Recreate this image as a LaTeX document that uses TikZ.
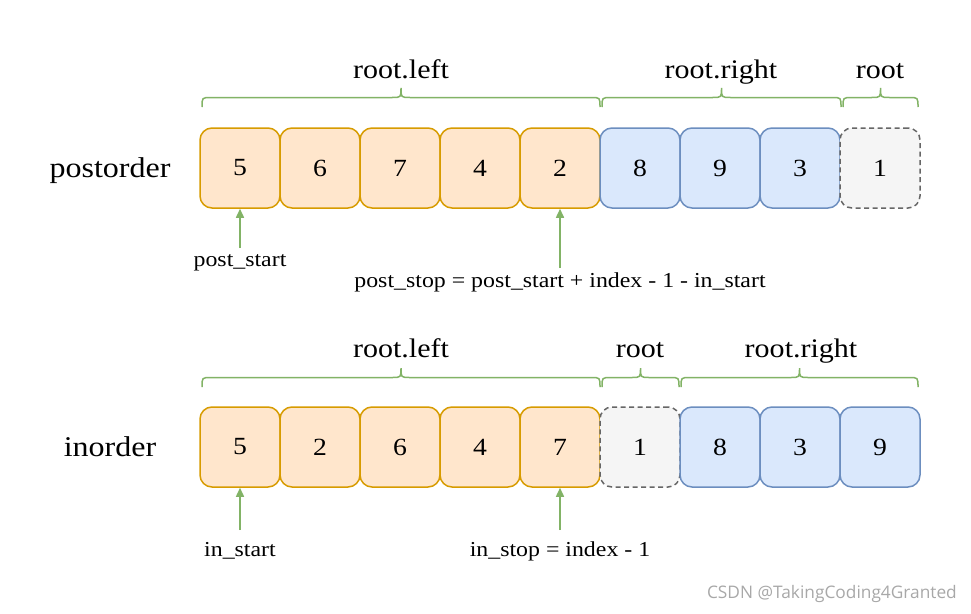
\documentclass[tikz,border=0pt]{standalone}
\usepackage{fontspec}
\setmainfont{Liberation Serif}[FakeStretch=1.12]
\newfontfamily\wmfont{Open Sans}
\usetikzlibrary{arrows.meta}
\definecolor{orfill}{HTML}{FFE6CC}
\definecolor{ordraw}{HTML}{D79B00}
\definecolor{blfill}{HTML}{DAE8FC}
\definecolor{bldraw}{HTML}{6C8EBF}
\definecolor{grfill}{HTML}{F5F5F5}
\definecolor{grdraw}{HTML}{666666}
\definecolor{grn}{HTML}{82B366}
\definecolor{wm}{HTML}{A8A8A8}
\tikzset{
  cell/.style={draw, rounded corners=12pt, minimum width=80pt, minimum height=80pt,
    line width=1.5pt, inner sep=0pt, font=\fontsize{24.7}{30}\selectfont},
  lcell/.style={cell, fill=orfill, draw=ordraw},
  rcell/.style={cell, fill=blfill, draw=bldraw},
  ccell/.style={cell, fill=grfill, draw=grdraw, dash pattern=on 5pt off 3.5pt},
  rowlab/.style={anchor=base, inner sep=0pt, font=\fontsize{28.6}{32}\selectfont},
  brlab/.style={anchor=base, inner sep=0pt, font=\fontsize{26.8}{30}\selectfont},
  arlab/.style={anchor=base, inner sep=0pt, font=\fontsize{21.3}{24}\selectfont},
  brc/.style={draw=grn, line width=1.5pt},
  arr/.style={draw=grn, line width=1.5pt, -{Triangle[length=9pt,width=8pt]}},
}
% \cbrace{x1}{x2}{y of ends}
\newcommand{\cbrace}[3]{%
  \pgfmathsetmacro{\xm}{(#1+#2)/2}%
  \pgfmathsetmacro{\yl}{#3-9.5}%
  \pgfmathsetmacro{\yt}{#3-19}%
  \path[brc] (#1,#3) .. controls (#1,\yl) and (#1,\yl) .. (#1+9,\yl)
    -- (\xm-9,\yl) .. controls (\xm,\yl) and (\xm,\yl) .. (\xm,\yt)
    .. controls (\xm,\yl) and (\xm,\yl) .. (\xm+9,\yl)
    -- (#2-9,\yl) .. controls (#2,\yl) and (#2,\yl) .. (#2,#3);}
\begin{document}
\begin{tikzpicture}[x=1pt,y=-1pt]
\useasboundingbox (0,0) rectangle (971,613);
% postorder row
\node[rowlab] (lpost) at (110,177.5) {postorder};
\node[lcell] (p1) at (240,168) {5};
\node[lcell] (p2) at (320,168) {6};
\node[lcell] (p3) at (400,168) {7};
\node[lcell] (p4) at (480,168) {4};
\node[lcell] (p5) at (560,168) {2};
\node[rcell] (p6) at (640,168) {8};
\node[rcell] (p7) at (720,168) {9};
\node[rcell] (p8) at (800,168) {3};
\node[ccell] (p9) at (880,168) {1};
\cbrace{202}{600}{107}
\cbrace{602}{841}{107}
\cbrace{843}{918}{107}
\node[brlab] (bl1) at (401,78.5) {root.left};
\node[brlab] (br1) at (721,78.5) {root.right};
\node[brlab] (bc1) at (880,78.5) {root};
\coordinate (t1) at (240,248);
\coordinate (t2) at (560,268);
\draw[arr] (t1) -- (p1.south);
\draw[arr] (t2) -- (p5.south);
\node[arlab] (ps) at (240,266.5) {post\_start};
\node[arlab] (pe) at (560,287) {post\_stop = post\_start + index - 1 - in\_start};
% inorder row
\node[rowlab] (lin) at (110,456) {inorder};
\node[lcell] (i1) at (240,447) {5};
\node[lcell] (i2) at (320,447) {2};
\node[lcell] (i3) at (400,447) {6};
\node[lcell] (i4) at (480,447) {4};
\node[lcell] (i5) at (560,447) {7};
\node[ccell] (i6) at (640,447) {1};
\node[rcell] (i7) at (720,447) {8};
\node[rcell] (i8) at (800,447) {3};
\node[rcell] (i9) at (880,447) {9};
\cbrace{202}{600}{387}
\cbrace{602}{679}{387}
\cbrace{681}{918}{387}
\node[brlab] (bl2) at (401,357) {root.left};
\node[brlab] (bc2) at (640,357) {root};
\node[brlab] (br2) at (801,357) {root.right};
\coordinate (t3) at (240,530);
\coordinate (t4) at (560,530);
\draw[arr] (t3) -- (i1.south);
\draw[arr] (t4) -- (i5.south);
\node[arlab] (is) at (240,556) {in\_start};
\node[arlab] (ie) at (560,556) {in\_stop = index - 1};
\node[anchor=base east, inner sep=0pt, text=wm, font=\wmfont\fontsize{17.3}{20}\selectfont] (wmk) at (957,598) {CSDN @TakingCoding4Granted};
\end{tikzpicture}
\end{document}
